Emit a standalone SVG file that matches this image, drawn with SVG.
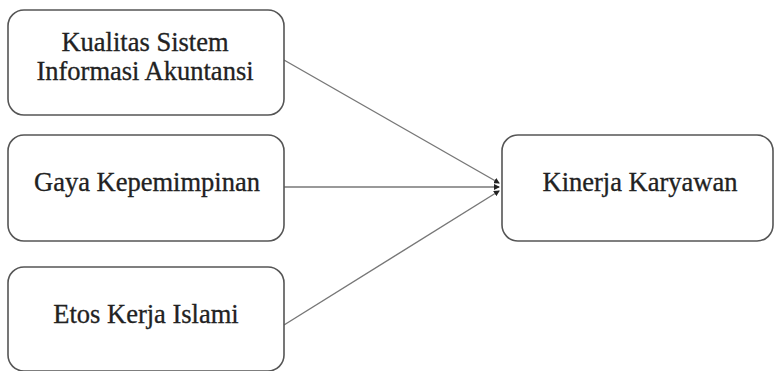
<svg xmlns="http://www.w3.org/2000/svg" width="774" height="371" viewBox="0 0 774 371">
<defs>
<style>
.box{fill:#fff;stroke:#555;stroke-width:1.6}
.t{font-family:"Liberation Serif","Times New Roman",serif;font-size:26.5px;fill:#222;stroke:#222;stroke-width:0.3;text-anchor:middle}
.c{stroke:#777;stroke-width:1.4;fill:none;marker-end:url(#ah)}
</style>
<marker id="ah" markerWidth="6" markerHeight="6" refX="5" refY="3" orient="auto" markerUnits="userSpaceOnUse">
<path d="M0,0 L6,3 L0,6 z" fill="#222"/>
</marker>
</defs>
<rect width="774" height="371" fill="#fff"/>
<g id="connectors">
<line class="c" x1="284" y1="60" x2="499" y2="183"/>
<line class="c" x1="284" y1="187" x2="499" y2="187"/>
<line class="c" x1="284" y1="325" x2="499" y2="191"/>
</g>
<g id="n1">
<rect class="box" x="8" y="10" width="276" height="105" rx="16"/>
<text class="t" x="145" y="51">Kualitas Sistem</text>
<text class="t" x="145" y="80">Informasi Akuntansi</text>
</g>
<g id="n2">
<rect class="box" x="8" y="135" width="276" height="106" rx="16"/>
<text class="t" x="147" y="191">Gaya Kepemimpinan</text>
</g>
<g id="n3">
<rect class="box" x="8" y="267" width="276" height="104" rx="16"/>
<text class="t" x="146" y="323">Etos Kerja Islami</text>
</g>
<g id="n4">
<rect class="box" x="502" y="135" width="271" height="106" rx="16"/>
<text class="t" x="640" y="191">Kinerja Karyawan</text>
</g>
</svg>
